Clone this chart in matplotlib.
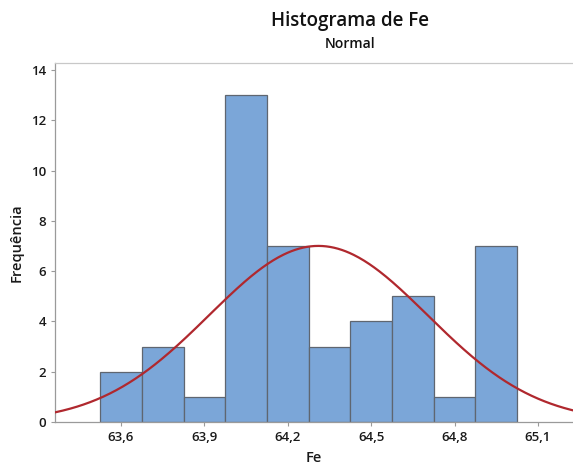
import numpy as np
import matplotlib
matplotlib.use("Agg")
import matplotlib.pyplot as plt

plt.rcParams['font.family'] = ['Open Sans', 'DejaVu Sans']

bin_centers = [63.60, 63.75, 63.90, 64.05, 64.20, 64.35, 64.50, 64.65, 64.80, 64.95]
counts = [2, 3, 1, 13, 7, 3, 4, 5, 1, 7]
bin_width = 0.15
fit_mean = 64.31
fit_sd = 0.393
n_obs = sum(counts)
xticks = [63.6, 63.9, 64.2, 64.5, 64.8, 65.1]
xtick_labels = ["63,6", "63,9", "64,2", "64,5", "64,8", "65,1"]
yticks = [0, 2, 4, 6, 8, 10, 12, 14]

fig = plt.figure(figsize=(5.73, 4.66), dpi=100)
ax = fig.add_axes([55/573, 44/466, 518/573, 359/466])

ax.bar(bin_centers, counts, width=bin_width, color="#7BA6D8",
       edgecolor="#5F6670", linewidth=0.9, zorder=2)

xlim = (63.3626, 65.226)
xs = np.linspace(xlim[0], xlim[1], 400)
ys = n_obs * bin_width / (fit_sd * np.sqrt(2 * np.pi)) * np.exp(-0.5 * ((xs - fit_mean) / fit_sd) ** 2)
ax.plot(xs, ys, color="#B0282E", linewidth=1.6, zorder=3)

ax.set_xlim(*xlim)
ax.set_ylim(0, 14.28)
ax.set_xticks(xticks)
ax.set_xticklabels(xtick_labels)
ax.set_yticks(yticks)
ax.tick_params(axis='both', labelsize=9.5, length=3, width=0.8, color="#9a9a9a", labelcolor="#1a1a1a")
for lab in ax.get_xticklabels() + ax.get_yticklabels():
    lab.set_fontweight("semibold")

for side in ["left", "bottom"]:
    ax.spines[side].set_color("#9a9a9a")
    ax.spines[side].set_linewidth(0.9)
ax.spines["top"].set_color("#c8c8c8")
ax.spines["top"].set_linewidth(0.9)
ax.spines["right"].set_visible(False)

ax.set_xlabel("Fe", fontsize=10.5, color="#1a1a1a", labelpad=5, fontweight="semibold")
ax.set_ylabel("Frequência", fontsize=10.5, color="#1a1a1a", labelpad=5, fontweight="semibold")

fig.text(350/573, 1 - 21/466, "Histograma de Fe", ha="center", va="center", fontsize=13.5, color="#111111", fontweight="semibold")
fig.text(350/573, 1 - 44/466, "Normal", ha="center", va="center", fontsize=10, color="#111111", fontweight="semibold")

fig.savefig("out.png", dpi=100)
